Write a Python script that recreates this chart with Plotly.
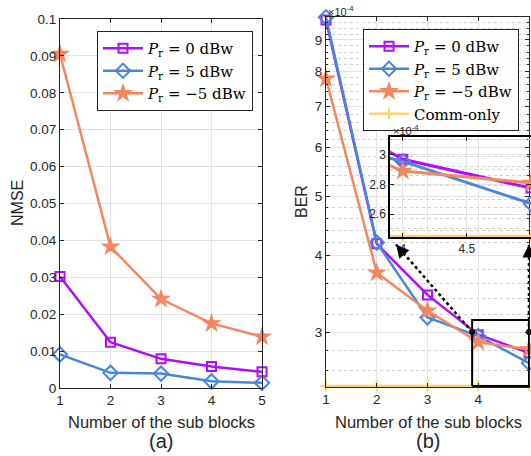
import math
import plotly.graph_objects as go

# ---------------- data ----------------
blocks = [1, 2, 3, 4, 5]

nmse_p0 = [0.0302, 0.0124, 0.0079, 0.0058, 0.0044]
nmse_p5 = [0.0091, 0.0041, 0.0039, 0.0018, 0.0014]
nmse_m5 = [0.0905, 0.0383, 0.0241, 0.0175, 0.0139]

ber_p0 = [9.70e-4, 4.18e-4, 3.45e-4, 2.97e-4, 2.775e-4]
ber_p5 = [9.80e-4, 4.20e-4, 3.17e-4, 2.955e-4, 2.67e-4]
ber_m5 = [7.78e-4, 3.75e-4, 3.25e-4, 2.89e-4, 2.81e-4]
ber_comm = [2.45e-4, 2.45e-4, 2.45e-4, 2.45e-4, 2.45e-4]

names = ["<i>P</i><sub>r</sub> = 0 dBw", "<i>P</i><sub>r</sub> = 5 dBw",
         "<i>P</i><sub>r</sub> = \u22125 dBw", "Comm-only"]

nmse_ticks = [0, 0.01, 0.02, 0.03, 0.04, 0.05, 0.06, 0.07, 0.08, 0.09, 0.1]
nmse_ticklabels = ["0", "0.01", "0.02", "0.03", "0.04", "0.05", "0.06", "0.07", "0.08", "0.09", "0.1"]
ber_ticks = [3e-4, 4e-4, 5e-4, 6e-4, 7e-4, 8e-4, 9e-4]
ber_ticklabels = ["3", "4", "5", "6", "7", "8", "9"]
ber_minor = [2.6e-4, 2.8e-4, 3.2e-4, 3.4e-4, 3.6e-4, 3.8e-4, 4.2e-4, 4.4e-4, 4.6e-4, 4.8e-4,
             5.2e-4, 5.4e-4, 5.6e-4, 5.8e-4, 6.2e-4, 6.4e-4, 6.6e-4, 6.8e-4, 7.2e-4, 7.4e-4,
             7.6e-4, 7.8e-4, 8.2e-4, 8.4e-4, 8.6e-4, 8.8e-4, 9.2e-4, 9.4e-4, 9.6e-4, 9.8e-4]
inset_yticks = [2.6e-4, 2.8e-4, 3.0e-4]
inset_yticklabels = ["2.6", "2.8", "3"]
inset_yminor = [2.5e-4, 2.7e-4, 2.9e-4, 3.1e-4]
inset_xticks = [4, 4.5, 5]
inset_xticklabels = ["4", "4.5", "5"]

zoom_box_x = [3.88, 5.0, 5.0, 3.88, 3.88]
zoom_box_y = [2.45e-4, 2.45e-4, 3.14e-4, 3.14e-4, 2.45e-4]
link1_x = [3.88, 2.38]
link1_y = [3.0e-4, 4.17e-4]
link2_x = [5.0, 5.0]
link2_y = [3.0e-4, 4.17e-4]

# ---------------- styles ----------------
PURPLE = "#B10CFF"
BLUE = "#4A86D8"
ORANGE = "#F3875F"
YELLOW = "#FFD46E"
AX = "#262626"
GRID = "#E3E3E3"
SANS = "Liberation Sans, Arial, sans-serif"
SERIF = "DejaVu Serif, serif"

styles = [
    dict(color=PURPLE, marker=dict(symbol="square-open", size=9, color=PURPLE, line=dict(width=2, color=PURPLE))),
    dict(color=BLUE, marker=dict(symbol="diamond-open", size=11, color=BLUE, line=dict(width=2, color=BLUE))),
    dict(color=ORANGE, marker=dict(symbol="star", size=15, color=ORANGE, line=dict(width=0))),
    dict(color=YELLOW, marker=dict(symbol="cross-thin", size=8, color=YELLOW, line=dict(width=2, color=YELLOW))),
]

W, H = 531, 456
def fx(p):
    return p / W
def fy(p):
    return 1 - p / H

fig = go.Figure()

# left panel
for i, ys in enumerate([nmse_p0, nmse_p5, nmse_m5]):
    s = styles[i]
    fig.add_trace(go.Scatter(x=blocks, y=ys, mode="lines+markers", name=names[i],
                             line=dict(color=s["color"], width=2.5), marker=s["marker"],
                             xaxis="x", yaxis="y", legend="legend", cliponaxis=False))

# right panel
for i, ys in enumerate([ber_p0, ber_p5, ber_m5, ber_comm]):
    s = styles[i]
    fig.add_trace(go.Scatter(x=blocks, y=ys, mode="lines+markers", name=names[i],
                             line=dict(color=s["color"], width=2.5), marker=s["marker"],
                             xaxis="x2", yaxis="y2", legend="legend2", cliponaxis=False))

# zoom box and connectors
fig.add_trace(go.Scatter(x=zoom_box_x, y=zoom_box_y, mode="lines", line=dict(color="black", width=2),
                         xaxis="x2", yaxis="y2", showlegend=False, cliponaxis=False, hoverinfo="skip"))
for lx, ly in [(link1_x, link1_y), (link2_x, link2_y)]:
    fig.add_trace(go.Scatter(x=lx, y=ly, mode="lines", line=dict(color="black", width=2.5, dash="dot"),
                             xaxis="x2", yaxis="y2", showlegend=False, cliponaxis=False, hoverinfo="skip"))
    fig.add_trace(go.Scatter(x=lx[:1], y=ly[:1], mode="markers", marker=dict(color="black", size=6),
                             xaxis="x2", yaxis="y2", showlegend=False, cliponaxis=False, hoverinfo="skip"))

# inset
for i, ys in enumerate([ber_p0, ber_p5, ber_m5, ber_comm]):
    s = styles[i]
    fig.add_trace(go.Scatter(x=blocks, y=ys, mode="lines+markers", name=names[i],
                             line=dict(color=s["color"], width=3), marker=s["marker"],
                             xaxis="x3", yaxis="y3", showlegend=False, cliponaxis=False))

common_axis = dict(showline=True, linecolor=AX, linewidth=1, mirror="ticks", ticks="inside",
                   ticklen=4, tickcolor=AX, showgrid=True, gridcolor=GRID, gridwidth=1,
                   zeroline=False, tickfont=dict(family=SANS, size=13.5, color=AX), automargin=False)

LEG_FONT = dict(family=SERIF, size=15, color="black")

fig.update_layout(
    width=W, height=H, margin=dict(l=0, r=0, t=0, b=0),
    paper_bgcolor="white", plot_bgcolor="rgba(0,0,0,0)",
    xaxis=dict(common_axis, domain=[fx(60), fx(262)], range=[1, 5], tickvals=blocks, anchor="y"),
    yaxis=dict(common_axis, domain=[fy(388), fy(19)], range=[0, 0.1], tickvals=nmse_ticks,
               ticktext=nmse_ticklabels, anchor="x"),
    xaxis2=dict(common_axis, domain=[fx(326), fx(529)], range=[1, 5], tickvals=blocks, anchor="y2"),
    yaxis2=dict(common_axis, domain=[fy(387), fy(17)], type="log",
                range=[math.log10(2.44e-4), math.log10(9.81e-4)],
                tickvals=ber_ticks, ticktext=ber_ticklabels, anchor="x2",
                minor=dict(tickvals=ber_minor, showgrid=True, gridcolor="#D0D0D0", griddash="dot",
                           ticks="inside", ticklen=2, tickcolor=AX)),
    xaxis3=dict(common_axis, domain=[fx(390), 1.0], range=[3.9, 5.0], tickvals=inset_xticks,
                ticktext=inset_xticklabels, anchor="y3", linecolor="black", linewidth=1.5,
                tickfont=dict(family=SANS, size=12, color=AX)),
    yaxis3=dict(common_axis, domain=[fy(237), fy(137)], range=[2.445e-4, 3.12e-4],
                tickvals=inset_yticks, ticktext=inset_yticklabels, anchor="x3",
                linecolor="black", linewidth=1.5, tickfont=dict(family=SANS, size=12, color=AX),
                minor=dict(tickvals=inset_yminor, showgrid=True, gridcolor="#D0D0D0", griddash="dot")),
    legend=dict(x=fx(97), y=fy(31), xanchor="left", yanchor="top", bgcolor="white",
                bordercolor=AX, borderwidth=1, font=LEG_FONT, tracegroupgap=0, itemwidth=40),
    legend2=dict(x=fx(363), y=fy(29), xanchor="left", yanchor="top", bgcolor="white",
                 bordercolor=AX, borderwidth=1, font=LEG_FONT, tracegroupgap=0, itemwidth=40),
    showlegend=True,
)

annotations = [
    dict(text="NMSE", x=fx(17), y=fy(203), textangle=-90, size=16),
    dict(text="BER", x=fx(302), y=fy(202), textangle=-90, size=16),
    dict(text="Number of the sub blocks", x=fx(161), y=fy(422), size=16.5),
    dict(text="Number of the sub blocks", x=fx(428), y=fy(422), size=16.5),
    dict(text="(a)", x=fx(161), y=fy(441), size=20),
    dict(text="(b)", x=fx(428), y=fy(441), size=20),
    dict(text="\u00d710<sup>-4</sup>", x=fx(326), y=fy(11), xanchor="left", size=11),
    dict(text="\u00d710<sup>-4</sup>", x=fx(391), y=fy(130), xanchor="left", size=11),
]
for a in annotations:
    a.setdefault("xanchor", "center")
    size = a.pop("size")
    fig.add_annotation(xref="paper", yref="paper", showarrow=False, yanchor="middle",
                       font=dict(family=SANS, color=AX, size=size), **a)

# arrowheads at the inset end of the connectors
fig.add_annotation(xref="x2", yref="y2", x=link1_x[1], y=math.log10(link1_y[1]), text="",
                   showarrow=True, arrowhead=2, arrowsize=1.3, arrowwidth=2, arrowcolor="black",
                   ax=10, ay=12)
fig.add_annotation(xref="x2", yref="y2", x=link2_x[1], y=math.log10(link2_y[1]), text="",
                   showarrow=True, arrowhead=2, arrowsize=1.3, arrowwidth=2, arrowcolor="black",
                   ax=0, ay=15)

fig.write_html("out.html", config={"displayModeBar": False},
               post_script="document.body.style.margin='0';document.body.style.overflow='hidden';")
